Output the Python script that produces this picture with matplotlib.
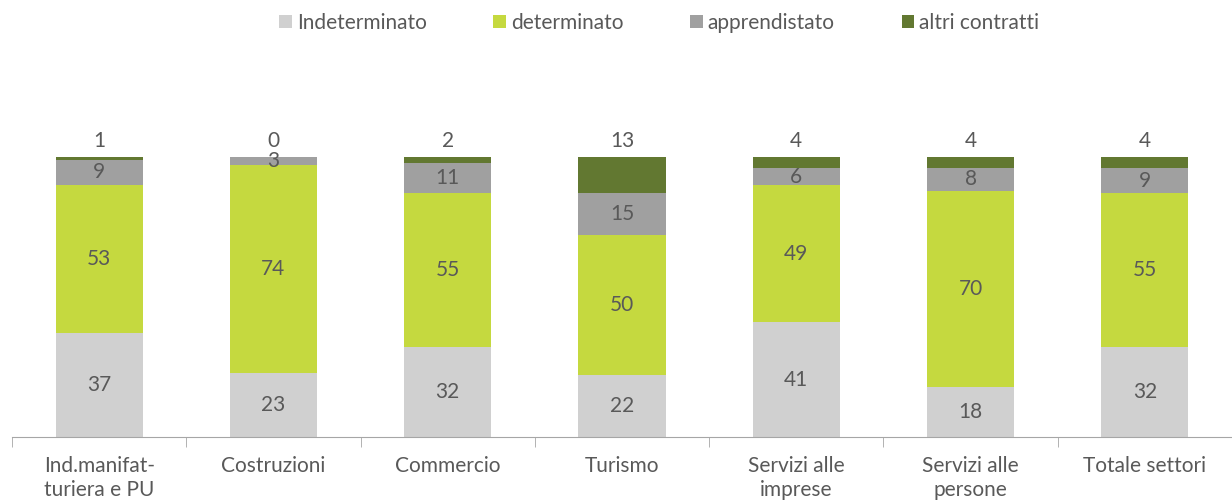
import numpy as np
import matplotlib.pyplot as plt

plt.rcParams['font.family'] = ['Lato', 'DejaVu Sans']

# === Data ===
categories = ["Ind.manifat-\nturiera e PU", "Costruzioni", "Commercio", "Turismo",
              "Servizi alle\nimprese", "Servizi alle\npersone", "Totale settori"]
indeterminato = [37, 23, 32, 22, 41, 18, 32]
determinato = [53, 74, 55, 50, 49, 70, 55]
apprendistato = [9, 3, 11, 15, 6, 8, 9]
altri = [1, 0, 2, 13, 4, 4, 4]

series = [("Indeterminato", indeterminato, "#D0D0D0"),
          ("determinato", determinato, "#C5D93F"),
          ("apprendistato", apprendistato, "#A0A0A0"),
          ("altri contratti", altri, "#627831")]

text_col = "#595959"
fs = 15

fig = plt.figure(figsize=(12.32, 5.04), dpi=100)
ax = fig.add_axes([12 / 1232, 67 / 504, 1220 / 1232, 280 / 504])

x = np.arange(len(categories))
bottom = np.zeros(len(categories))
for name, vals, col in series:
    vals = np.array(vals, dtype=float)
    ax.bar(x, vals, 0.5, bottom=bottom, color=col, label=name, linewidth=0)
    if name != "altri contratti":
        for xi, b, v in zip(x, bottom, vals):
            ax.text(xi, b + v / 2, f"{int(v)}", ha="center", va="center",
                    fontsize=fs, color=text_col)
    else:
        # labels for the top segment sit above the bar
        for xi, b, v in zip(x, bottom, vals):
            ax.annotate(f"{int(v)}", (xi, b + v), xytext=(0, 11.5), textcoords="offset points",
                        ha="center", va="center", fontsize=fs, color=text_col,
                        annotation_clip=False)
    bottom += vals

ax.set_xlim(-0.5, len(categories) - 0.5)
ax.set_ylim(0, 100)
for s in ["top", "right", "left"]:
    ax.spines[s].set_visible(False)
ax.spines["bottom"].set_color("#A6A6A6")
ax.set_yticks([])
ax.set_xticks(x)
ax.set_xticklabels(categories, fontsize=fs, color=text_col, linespacing=1.25)
ax.tick_params(axis="x", which="major", length=0, pad=14)
ax.set_xticks(np.arange(-0.5, len(categories) - 0.5), minor=True)
ax.tick_params(axis="x", which="minor", length=7, color="#A6A6A6")

leg = fig.legend(loc="center", bbox_to_anchor=(0.535, 0.955), ncol=4, frameon=False,
                 fontsize=fs, handlelength=0.6, handleheight=0.6, handletextpad=0.25,
                 columnspacing=3.2)
for t in leg.get_texts():
    t.set_color(text_col)

plt.savefig("out.png", dpi=100)
